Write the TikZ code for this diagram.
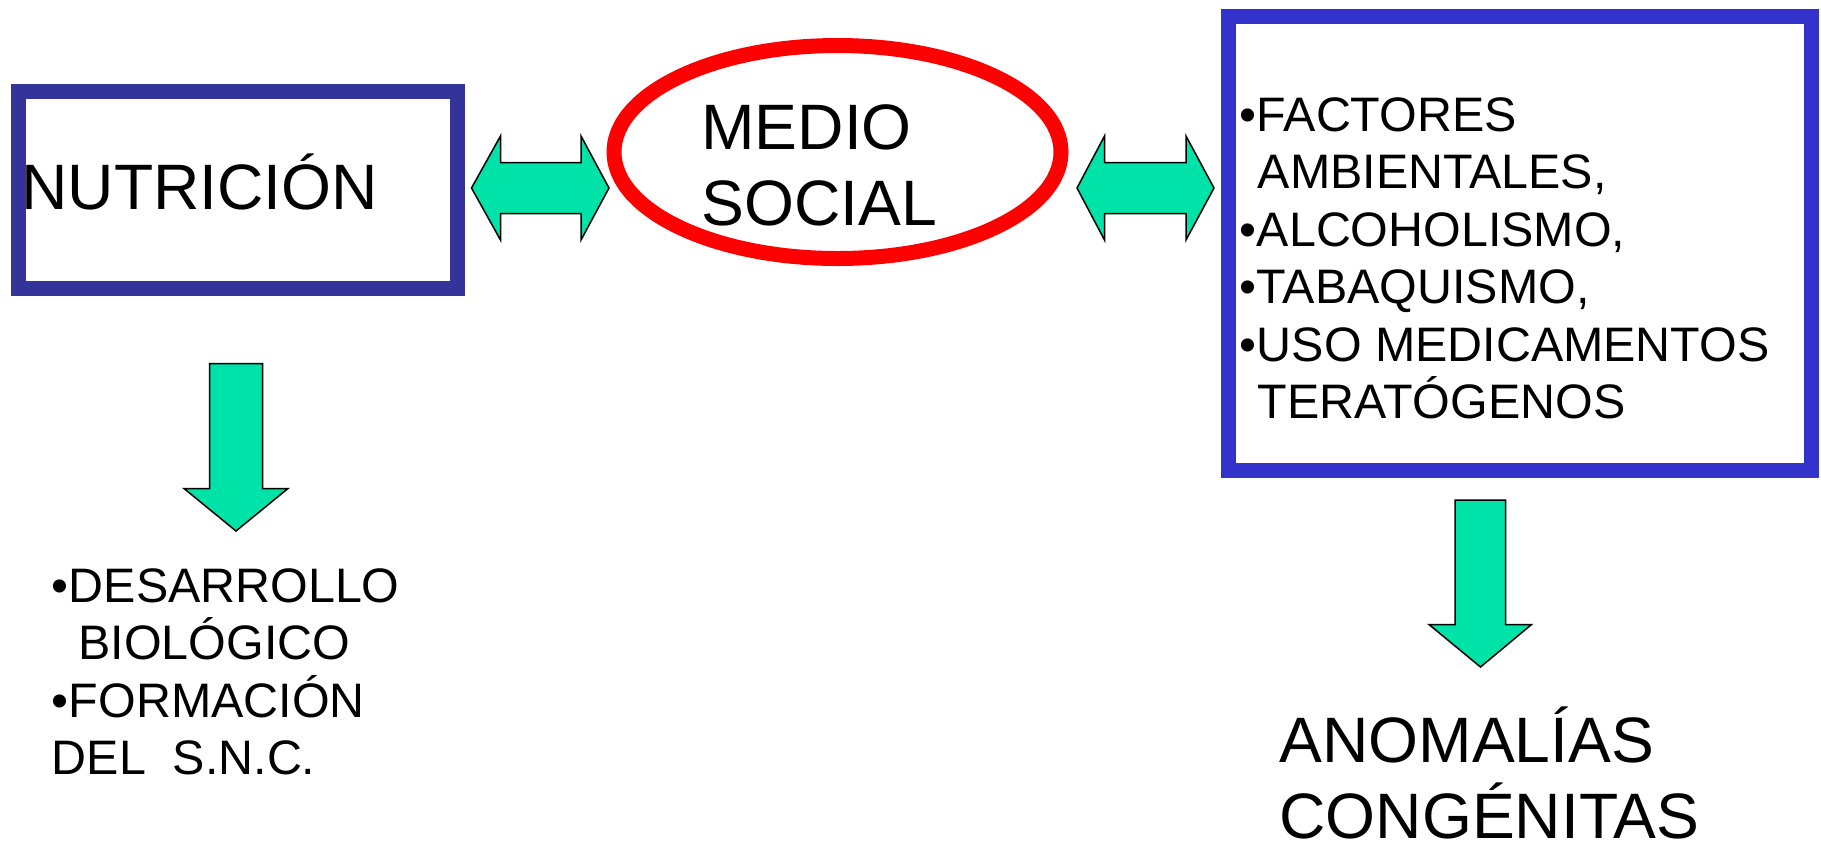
\documentclass[tikz,border=0pt]{standalone}
\usepackage{fontspec}
\setmainfont{Liberation Sans}
\usetikzlibrary{shapes.geometric}
\definecolor{arrowgreen}{RGB}{0,227,168}
\definecolor{navyblue}{RGB}{51,51,153}
\definecolor{brightblue}{RGB}{51,51,204}
\definecolor{ringred}{RGB}{255,0,0}
\newcommand{\bigtxt}{\fontsize{32.1pt}{38.25pt}\selectfont}
\newcommand{\smalltxt}{\fontsize{24.2pt}{28.75pt}\selectfont}
\newcommand{\linesblock}[2]{\parbox[t]{#1}{\raggedright #2}}
\tikzset{
  blockarrow/.style={fill=arrowgreen, draw=black, line width=0.75pt, line join=miter},
  frame/.style={draw, line width=7.5pt, inner sep=0pt, line join=miter},
  label/.style={anchor=base west, inner sep=0pt, text=black}
}
\begin{document}
\begin{tikzpicture}[x=0.5pt, y=-0.5pt]
\useasboundingbox (0,0) rectangle (1821,843);

% boxes and ellipse
\node[frame, draw=navyblue, minimum width=219.75pt, minimum height=98.5pt] (nutbox) at (237.75,190) {};
\node[frame, draw=brightblue, minimum width=291.75pt, minimum height=227pt] (factbox) at (1519.75,243) {};
\node[ellipse, draw=ringred, line width=7.5pt, inner sep=0pt, minimum width=223.5pt, minimum height=106.5pt] (medio) at (837.5,152) {};

% texts
\node[label] (nuttxt) at (21,209) {\bigtxt NUTRICIÓN};
\node[label] (mediotxt) at (701,149) {\linesblock{200pt}{\bigtxt MEDIO\\SOCIAL}};
\node[label] (facttxt) at (1239.5,131) {\linesblock{300pt}{\smalltxt •FACTORES\\\hspace*{9pt}AMBIENTALES,\\•ALCOHOLISMO,\\•TABAQUISMO,\\•USO MEDICAMENTOS\\\hspace*{9pt}TERATÓGENOS}};
\node[label] (destxt) at (51.5,602) {\linesblock{200pt}{\smalltxt •DESARROLLO\\\hspace*{13.25pt}BIOLÓGICO\\•FORMACIÓN\\DEL\ \ S.N.C.}};
\node[label] (anomtxt) at (1279,762) {\linesblock{250pt}{\bigtxt ANOMALÍAS\\CONGÉNITAS}};

% double arrows between boxes
\coordinate (la) at (471.5,188);
\coordinate (lb) at (609,188);
\draw[blockarrow] (la) -- (500.5,136) -- (500.5,162.5) -- (581,162.5) -- (581,136) -- (lb)
  -- (581,240) -- (581,213.5) -- (500.5,213.5) -- (500.5,240) -- cycle;
\coordinate (ra) at (1077,188);
\coordinate (rb) at (1214,188);
\draw[blockarrow] (ra) -- (1104.5,136) -- (1104.5,162.5) -- (1186,162.5) -- (1186,136) -- (rb)
  -- (1186,240) -- (1186,213.5) -- (1104.5,213.5) -- (1104.5,240) -- cycle;

% down arrows
\coordinate (ldtip) at (236,531);
\draw[blockarrow] (209.5,363.5) -- (262.5,363.5) -- (262.5,488.5) -- (288,488.5) -- (ldtip)
  -- (184,488.5) -- (209.5,488.5) -- cycle;
\coordinate (rdtip) at (1480.5,667);
\draw[blockarrow] (1455,500) -- (1505.5,500) -- (1505.5,624.5) -- (1531.5,624.5) -- (rdtip)
  -- (1429,624.5) -- (1455,624.5) -- cycle;
\end{tikzpicture}
\end{document}
